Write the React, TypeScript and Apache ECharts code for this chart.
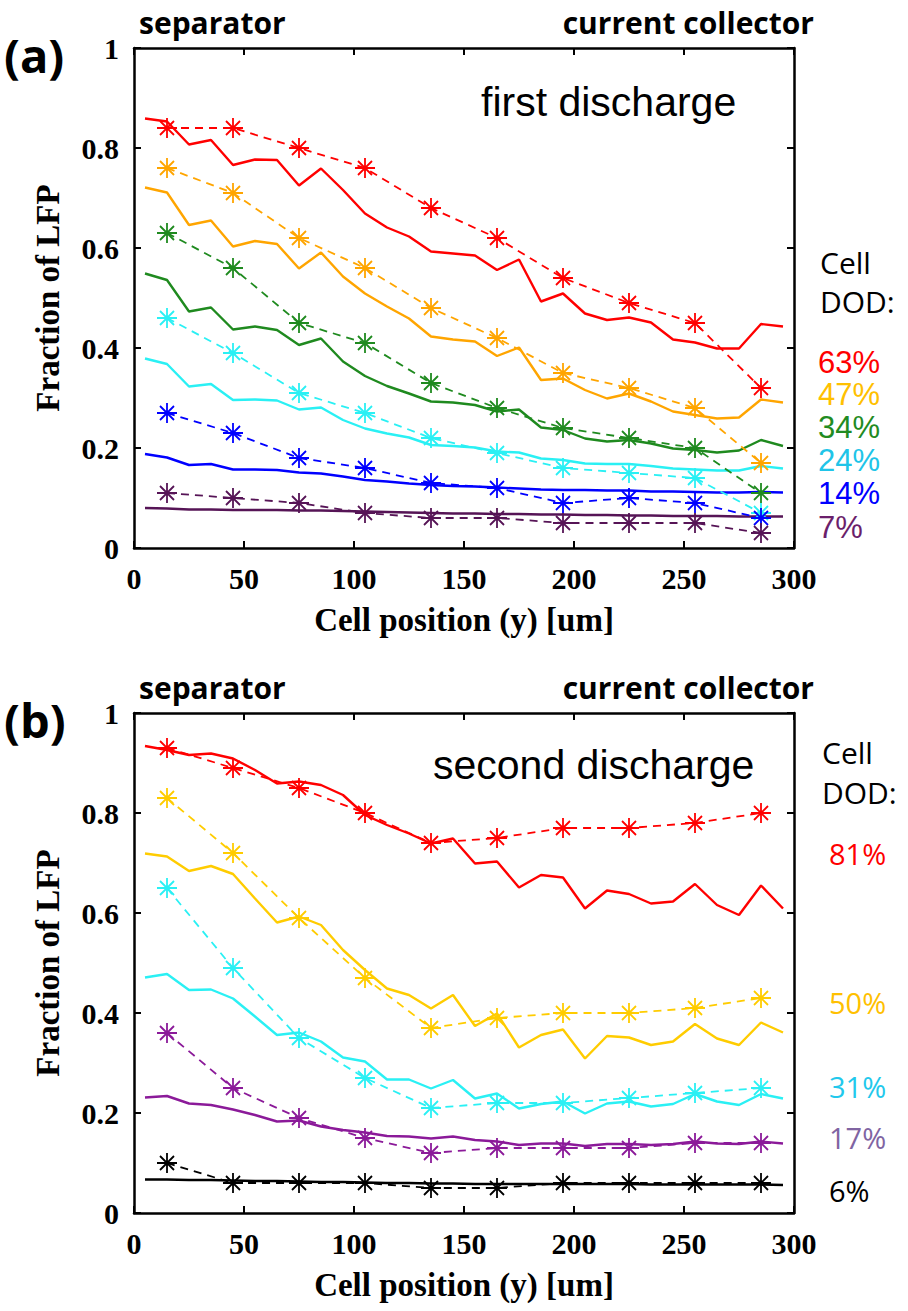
import React, { useEffect, useRef } from "react";
import * as echarts from "echarts";

// ---------- data ----------
const xStar = [15, 45, 75, 105, 135, 165, 195, 225, 255, 285];
const xLine = [5, 15, 25, 35, 45, 55, 65, 75, 85, 95, 105, 115, 125, 135, 145, 155, 165, 175, 185, 195, 205, 215, 225, 235, 245, 255, 265, 275, 285, 295];
const yTicks = [0, 0.2, 0.4, 0.6, 0.8, 1];

// panel (a) first discharge: dashed-with-star (measured) and solid (model)
const aRedStar = [0.84, 0.84, 0.80, 0.76, 0.68, 0.62, 0.54, 0.49, 0.45, 0.32];
const aOrangeStar = [0.76, 0.71, 0.62, 0.56, 0.48, 0.42, 0.35, 0.32, 0.28, 0.17];
const aGreenStar = [0.63, 0.56, 0.45, 0.41, 0.33, 0.28, 0.24, 0.22, 0.20, 0.11];
const aCyanStar = [0.46, 0.39, 0.31, 0.27, 0.22, 0.19, 0.16, 0.15, 0.14, 0.07];
const aBlueStar = [0.27, 0.23, 0.18, 0.16, 0.13, 0.12, 0.09, 0.10, 0.09, 0.06];
const aPurpleStar = [0.11, 0.10, 0.09, 0.07, 0.06, 0.06, 0.05, 0.05, 0.05, 0.03];

const aRedLine = [0.859, 0.853, 0.807, 0.816, 0.766, 0.777, 0.776, 0.725, 0.759, 0.716, 0.669, 0.641, 0.623, 0.593, 0.589, 0.585, 0.556, 0.577, 0.493, 0.509, 0.469, 0.456, 0.461, 0.451, 0.417, 0.411, 0.399, 0.399, 0.448, 0.443];
const aOrangeLine = [0.721, 0.711, 0.646, 0.655, 0.603, 0.614, 0.608, 0.559, 0.591, 0.543, 0.509, 0.483, 0.459, 0.423, 0.417, 0.413, 0.384, 0.401, 0.336, 0.339, 0.316, 0.299, 0.309, 0.293, 0.273, 0.266, 0.259, 0.261, 0.297, 0.291];
const aGreenLine = [0.549, 0.536, 0.473, 0.481, 0.437, 0.443, 0.436, 0.406, 0.419, 0.373, 0.344, 0.324, 0.309, 0.293, 0.291, 0.286, 0.273, 0.277, 0.241, 0.236, 0.219, 0.213, 0.216, 0.209, 0.199, 0.196, 0.191, 0.195, 0.216, 0.204];
const aCyanLine = [0.379, 0.368, 0.323, 0.328, 0.296, 0.297, 0.295, 0.277, 0.281, 0.256, 0.239, 0.229, 0.221, 0.206, 0.204, 0.201, 0.193, 0.191, 0.179, 0.176, 0.169, 0.168, 0.168, 0.164, 0.159, 0.157, 0.155, 0.155, 0.164, 0.159];
const aBlueLine = [0.188, 0.181, 0.166, 0.168, 0.157, 0.157, 0.156, 0.151, 0.149, 0.143, 0.136, 0.133, 0.129, 0.126, 0.124, 0.123, 0.121, 0.119, 0.117, 0.116, 0.116, 0.115, 0.115, 0.113, 0.113, 0.112, 0.111, 0.111, 0.112, 0.111];
const aPurpleLine = [0.080, 0.079, 0.077, 0.077, 0.076, 0.076, 0.076, 0.075, 0.075, 0.074, 0.073, 0.072, 0.071, 0.070, 0.069, 0.069, 0.068, 0.068, 0.067, 0.067, 0.066, 0.066, 0.065, 0.065, 0.064, 0.064, 0.064, 0.063, 0.063, 0.063];

// panel (b) second discharge
const bRedStar = [0.93, 0.89, 0.85, 0.80, 0.74, 0.75, 0.77, 0.77, 0.78, 0.80];
const bYellowStar = [0.83, 0.72, 0.59, 0.47, 0.37, 0.39, 0.40, 0.40, 0.41, 0.43];
const bCyanStar = [0.65, 0.49, 0.35, 0.27, 0.21, 0.22, 0.22, 0.23, 0.24, 0.25];
const bPurpleStar = [0.36, 0.25, 0.19, 0.15, 0.12, 0.13, 0.13, 0.13, 0.14, 0.14];
const bBlackStar = [0.10, 0.06, 0.06, 0.06, 0.05, 0.05, 0.06, 0.06, 0.06, 0.06];

const bRedLine = [0.934, 0.926, 0.916, 0.919, 0.909, 0.886, 0.859, 0.863, 0.856, 0.836, 0.796, 0.776, 0.759, 0.739, 0.749, 0.699, 0.703, 0.651, 0.676, 0.671, 0.609, 0.645, 0.638, 0.619, 0.623, 0.658, 0.616, 0.596, 0.655, 0.609];
const bYellowLine = [0.719, 0.713, 0.684, 0.694, 0.678, 0.629, 0.581, 0.593, 0.576, 0.526, 0.486, 0.449, 0.436, 0.409, 0.436, 0.374, 0.399, 0.331, 0.356, 0.367, 0.309, 0.354, 0.351, 0.336, 0.343, 0.378, 0.349, 0.336, 0.381, 0.361];
const bCyanLine = [0.471, 0.478, 0.446, 0.447, 0.429, 0.393, 0.356, 0.361, 0.343, 0.311, 0.303, 0.267, 0.267, 0.249, 0.266, 0.229, 0.239, 0.209, 0.218, 0.223, 0.199, 0.219, 0.223, 0.213, 0.218, 0.238, 0.223, 0.216, 0.238, 0.229];
const bPurpleLine = [0.231, 0.234, 0.219, 0.216, 0.207, 0.196, 0.183, 0.185, 0.173, 0.166, 0.161, 0.154, 0.153, 0.149, 0.153, 0.146, 0.143, 0.136, 0.139, 0.139, 0.134, 0.138, 0.138, 0.136, 0.138, 0.143, 0.139, 0.138, 0.143, 0.139];
const bBlackLine = [0.067, 0.067, 0.066, 0.066, 0.065, 0.064, 0.064, 0.063, 0.062, 0.062, 0.061, 0.060, 0.060, 0.059, 0.059, 0.058, 0.058, 0.058, 0.058, 0.058, 0.058, 0.058, 0.058, 0.057, 0.057, 0.057, 0.057, 0.057, 0.057, 0.056];

const aDodLabels = ["63%", "47%", "34%", "24%", "14%", "7%"];
const bDodLabels = ["81%", "50%", "31%", "17%", "6%"];

// ---------- styling ----------
const aLineColors = ["#ff0000", "#ffa500", "#1f8a1f", "#2af0f4", "#0000ff", "#561456"];
const aLabelColors = ["#ff0000", "#ffc000", "#228b22", "#20c4e8", "#0000ff", "#6b1f6b"];
const bLineColors = ["#ff0000", "#ffcc00", "#2af0f4", "#8b1a99", "#000000"];
const bLabelColors = ["#ff0000", "#ffc000", "#22c8ec", "#8064a2", "#000000"];

const STAR = "path://M10,0L10,20M0,10L20,10M3,3L17,17M3,17L17,3";
const SERIF = "Liberation Serif";
const SANS = "Liberation Sans";
const CAL = "Open Sans";

const pair = (xs: number[], ys: number[]) => xs.map((x, i) => [x, ys[i]]);

function starSeries(ys: number[], color: string, g: number) {
  return {
    type: "line",
    xAxisIndex: g * 2,
    yAxisIndex: g * 2,
    data: pair(xStar, ys),
    symbol: STAR,
    symbolSize: 20,
    showAllSymbol: true,
    itemStyle: { color: color, borderColor: color, borderWidth: 1.8 },
    lineStyle: { color: color, width: 1.8, type: [8, 6] },
    z: 3,
  };
}
function lineSeries(ys: number[], color: string, g: number) {
  return {
    type: "line",
    xAxisIndex: g * 2,
    yAxisIndex: g * 2,
    data: pair(xLine, ys),
    symbol: "none",
    lineStyle: { color: color, width: 2.4 },
    z: 2,
  };
}

const tick = { show: true, inside: true, length: 7, lineStyle: { color: "#000", width: 2 } };
const frameLine = { show: true, onZero: false, lineStyle: { color: "#000", width: 2.5 } };

function axesFor(g: number) {
  const xBottom = {
    type: "value",
    gridIndex: g,
    min: 0,
    max: 300,
    interval: 50,
    position: "bottom",
    axisLine: frameLine,
    axisTick: tick,
    axisLabel: { show: true, color: "#000", fontFamily: SERIF, fontWeight: "bold", fontSize: 30, margin: 15 },
    splitLine: { show: false },
    name: "Cell position (y) [um]",
    nameLocation: "middle",
    nameGap: 55,
    nameTextStyle: { color: "#000", fontFamily: SERIF, fontWeight: "bold", fontSize: 33 },
  };
  const xTop = {
    type: "value",
    gridIndex: g,
    min: 0,
    max: 300,
    interval: 50,
    position: "top",
    axisLine: frameLine,
    axisTick: tick,
    axisLabel: { show: false },
    splitLine: { show: false },
  };
  const yLeft = {
    type: "value",
    gridIndex: g,
    min: 0,
    max: 1,
    interval: 0.2,
    position: "left",
    axisLine: frameLine,
    axisTick: tick,
    axisLabel: {
      show: true,
      color: "#000",
      fontFamily: SERIF,
      fontWeight: "bold",
      fontSize: 30,
      margin: 15,
      formatter: (v: number) => {
        const t = yTicks.find((k) => Math.abs(k - v) < 1e-6);
        return t === undefined ? "" : String(t);
      },
    },
    splitLine: { show: false },
    name: "Fraction of LFP",
    nameLocation: "middle",
    nameGap: 70,
    nameRotate: 90,
    nameTextStyle: { color: "#000", fontFamily: SERIF, fontWeight: "bold", fontSize: 33 },
  };
  const yRight = {
    type: "value",
    gridIndex: g,
    min: 0,
    max: 1,
    interval: 0.2,
    position: "right",
    axisLine: frameLine,
    axisTick: tick,
    axisLabel: { show: false },
    splitLine: { show: false },
  };
  return { x: [xBottom, xTop], y: [yLeft, yRight] };
}

function txt(text: string, x: number, y: number, size: number, opts: any = {}) {
  return {
    type: "text",
    x,
    y,
    style: {
      text,
      fill: opts.color || "#000",
      fontSize: size,
      fontFamily: opts.font || CAL,
      fontWeight: opts.weight || "normal",
      align: opts.align || "left",
      verticalAlign: "middle",
    },
    z: 10,
  };
}

export default function App() {
  const ref = useRef<HTMLDivElement>(null);
  useEffect(() => {
    if (!ref.current) return;
    const chart = echarts.init(ref.current, undefined, { renderer: "svg" });
    const a = axesFor(0);
    const b = axesFor(1);

    const aStars = [aRedStar, aOrangeStar, aGreenStar, aCyanStar, aBlueStar, aPurpleStar];
    const aLines = [aRedLine, aOrangeLine, aGreenLine, aCyanLine, aBlueLine, aPurpleLine];
    const bStars = [bRedStar, bYellowStar, bCyanStar, bPurpleStar, bBlackStar];
    const bLines = [bRedLine, bYellowLine, bCyanLine, bPurpleLine, bBlackLine];

    const series: any[] = [];
    aLines.forEach((d, i) => series.push(lineSeries(d, aLineColors[i], 0)));
    aStars.forEach((d, i) => series.push(starSeries(d, aLineColors[i], 0)));
    bLines.forEach((d, i) => series.push(lineSeries(d, bLineColors[i], 1)));
    bStars.forEach((d, i) => series.push(starSeries(d, bLineColors[i], 1)));

    const aLabelY = [362, 394, 427, 460, 493, 527];
    const bLabelY = [853, 1002, 1086, 1137, 1190];

    const graphics: any[] = [
      txt("(a)", 4, 55, 47, { weight: "bold" }),
      txt("separator", 139, 22, 30, { weight: "bold" }),
      txt("current collector", 814, 22, 30, { weight: "bold", align: "right" }),
      txt("first discharge", 481, 102, 41, { font: SANS }),
      txt("Cell", 820, 262, 30, { font: CAL }),
      txt("DOD:", 820, 301, 30, { font: CAL }),
      txt("(b)", 4, 720, 47, { weight: "bold" }),
      txt("separator", 139, 687, 30, { weight: "bold" }),
      txt("current collector", 814, 687, 30, { weight: "bold", align: "right" }),
      txt("second discharge", 433, 765, 41, { font: SANS }),
      txt("Cell", 822, 752, 30, { font: CAL }),
      txt("DOD:", 822, 792, 30, { font: CAL }),
    ];
    aDodLabels.forEach((t, i) => graphics.push(txt(t, 818, aLabelY[i], 31, { font: SANS, color: aLabelColors[i] })));
    bDodLabels.forEach((t, i) => graphics.push(txt(t, 829, bLabelY[i], 29, { font: CAL, color: bLabelColors[i] })));

    chart.setOption({
      animation: false,
      backgroundColor: "#fff",
      grid: [
        { left: 134, top: 48, width: 660, height: 500 },
        { left: 134, top: 713, width: 660, height: 500 },
      ],
      xAxis: [...a.x, ...b.x],
      yAxis: [...a.y, ...b.y],
      series,
      graphic: graphics,
    });
    return () => chart.dispose();
  }, []);
  return (
    <div
      ref={ref}
      style={{ position: "absolute", left: 0, top: 0, width: 908, height: 1311 }}
    />
  );
}
